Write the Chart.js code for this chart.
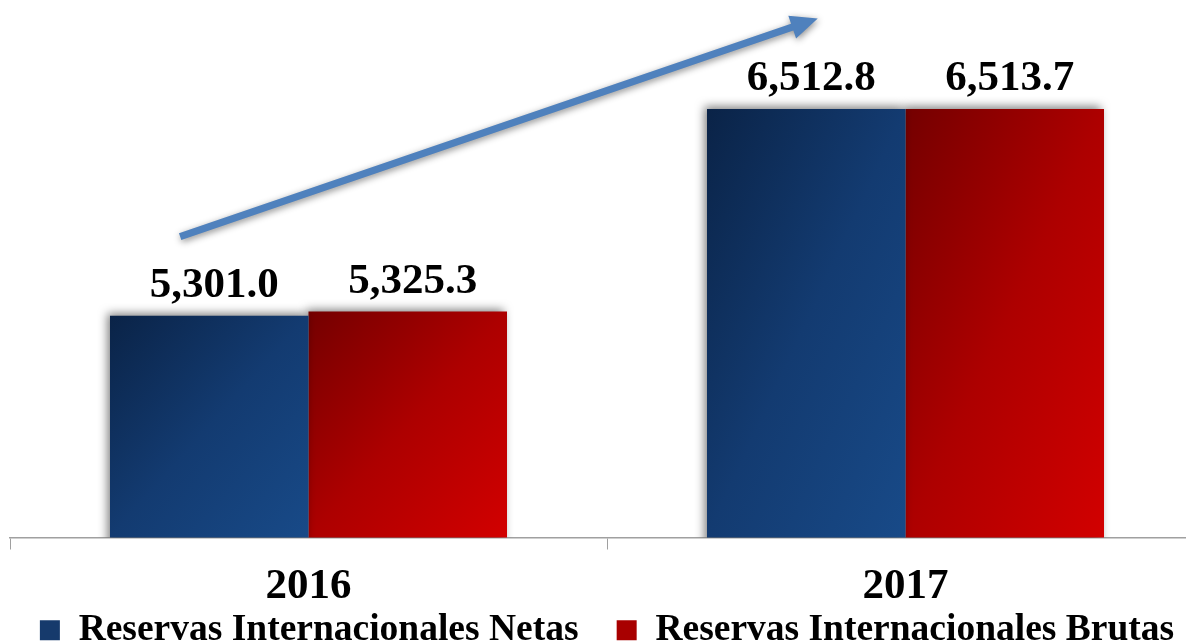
<!DOCTYPE html>
<html>
<head>
<meta charset="utf-8">
<script src="https://cdn.jsdelivr.net/npm/chart.js@4"></script>
<style>
    html, body { margin: 0; padding: 0; background: #fff; overflow: hidden; }
    #wrap { position: relative; width: 1210px; height: 659px; }
</style>
</head>
<body>
<div id="wrap"><canvas id="chart"></canvas></div>
<script>
const years = ['2016', '2017']
const netas = [5301.0, 6512.8]
const brutas = [5325.3, 6513.7]
const seriesNames = ['Reservas Internacionales Netas', 'Reservas Internacionales Brutas']

// trend arrow, in data units (category index, value)
const arrowFrom = [-0.215, 5765]
const arrowTo = [0.853, 7045]

const serif = '"Liberation Serif", "Times New Roman", serif'
const groupShare = 0.665

// diagonal gradient scaled to the bar box, like the office fill
function barGradient(dark, mid, light) {
    return function (context) {
        const chart = context.chart
        const area = chart.chartArea
        if (!area || context.dataIndex === undefined) return light
        const x = chart.scales.x
        const y = chart.scales.y
        const cx = x.getPixelForValue(context.dataIndex)
        const w = (x.width / years.length) * groupShare / 2
        const value = context.dataset.data[context.dataIndex]
        const left = context.datasetIndex === 0 ? cx - w : cx
        const top = y.getPixelForValue(value)
        const h = area.bottom - top
        const d = w * w + h * h
        const g = chart.ctx.createLinearGradient(left, top, left + 2 * h * h * w / d, top + 2 * h * w * w / d)
        g.addColorStop(0, dark)
        g.addColorStop(0.5, mid)
        g.addColorStop(1, light)
        return g
    }
}

const barShadow = {
    id: 'barShadow',
    beforeDatasetsDraw(chart) {
        const ctx = chart.ctx
        ctx.save()
        ctx.shadowColor = 'rgba(0, 0, 0, 0.5)'
        ctx.shadowBlur = 9
        ctx.shadowOffsetX = -3
        ctx.shadowOffsetY = -3
    },
    afterDatasetsDraw(chart) {
        chart.ctx.restore()
    }
}

const valueLabels = {
    id: 'valueLabels',
    afterDatasetsDraw(chart) {
        const ctx = chart.ctx
        ctx.save()
        ctx.font = 'bold 43px ' + serif
        ctx.fillStyle = '#000'
        ctx.textAlign = 'center'
        ctx.textBaseline = 'alphabetic'
        chart.data.datasets.forEach(function (ds, di) {
            chart.getDatasetMeta(di).data.forEach(function (bar, i) {
                const text = ds.data[i].toLocaleString('en-US', {minimumFractionDigits: 1, maximumFractionDigits: 1})
                ctx.fillText(text, bar.x + 5, bar.y - 19)
            })
        })
        ctx.restore()
    }
}

const trendArrow = {
    id: 'trendArrow',
    afterDraw(chart) {
        const ctx = chart.ctx
        const x = chart.scales.x
        const y = chart.scales.y
        const x0 = x.getPixelForValue(arrowFrom[0]), y0 = y.getPixelForValue(arrowFrom[1])
        const x1 = x.getPixelForValue(arrowTo[0]), y1 = y.getPixelForValue(arrowTo[1])
        const ang = Math.atan2(y1 - y0, x1 - x0)
        const head = 27
        const hw = 12
        const w = 3.6
        const bx = x1 - head * Math.cos(ang), by = y1 - head * Math.sin(ang)
        const nx = -Math.sin(ang), ny = Math.cos(ang)
        ctx.save()
        ctx.shadowColor = 'rgba(0, 0, 0, 0.45)'
        ctx.shadowBlur = 7
        ctx.shadowOffsetX = 1
        ctx.shadowOffsetY = 2
        ctx.fillStyle = '#4f81bd'
        ctx.beginPath()
        ctx.moveTo(x0 + nx * w, y0 + ny * w)
        ctx.lineTo(bx + nx * w, by + ny * w)
        ctx.lineTo(bx + nx * hw, by + ny * hw)
        ctx.lineTo(x1, y1)
        ctx.lineTo(bx - nx * hw, by - ny * hw)
        ctx.lineTo(bx - nx * w, by - ny * w)
        ctx.lineTo(x0 - nx * w, y0 - ny * w)
        ctx.closePath()
        ctx.fill()
        ctx.restore()
    }
}

new Chart(document.getElementById('chart'), {
    type: 'bar',
    data: {
        labels: years,
        datasets: [{
            label: seriesNames[0],
            data: netas,
            backgroundColor: barGradient('#0a2347', '#133b71', '#184a88'),
            borderWidth: 0,
        }, {
            label: seriesNames[1],
            data: brutas,
            backgroundColor: barGradient('#740000', '#ad0000', '#d20000'),
            borderWidth: 0,
        }]
    },
    options: {
        responsive: true,
        maintainAspectRatio: false,
        animation: false,
        layout: {
            padding: {left: 10, right: 6, top: 9, bottom: 0},
        },
        datasets: {
            bar: {
                categoryPercentage: groupShare,
                barPercentage: 1.0,
            },
        },
        scales: {
            x: {
                afterFit: function (scale) {
                    scale.height = 64
                },
                grid: {
                    drawOnChartArea: false,
                    drawTicks: true,
                    tickLength: 12,
                    color: '#a0a0a0',
                },
                border: {color: '#a0a0a0', width: 1.5},
                ticks: {
                    color: '#000',
                    padding: 12,
                    font: {family: serif, size: 43, weight: 'bold'},
                },
            },
            y: {
                display: false,
                min: 4000,
                max: 7100,
            },
        },
        plugins: {
            legend: {
                position: 'bottom',
                labels: {
                    color: '#000',
                    boxWidth: 20,
                    boxHeight: 20,
                    padding: 10,
                    font: {family: serif, size: 37.5, weight: 'bold'},
                    generateLabels: function (chart) {
                        const fills = ['#163a6c', '#a80000']
                        return chart.data.datasets.map(function (ds, i) {
                            // trailing spaces widen the gap between the two entries
                            const text = i === 0 ? ds.label + '   ' : ds.label
                            return {text: text, fillStyle: fills[i], strokeStyle: fills[i], lineWidth: 0, datasetIndex: i}
                        })
                    },
                },
            },
            tooltip: {enabled: false},
        },
    },
    plugins: [barShadow, valueLabels, trendArrow],
})
</script>
</body>
</html>
